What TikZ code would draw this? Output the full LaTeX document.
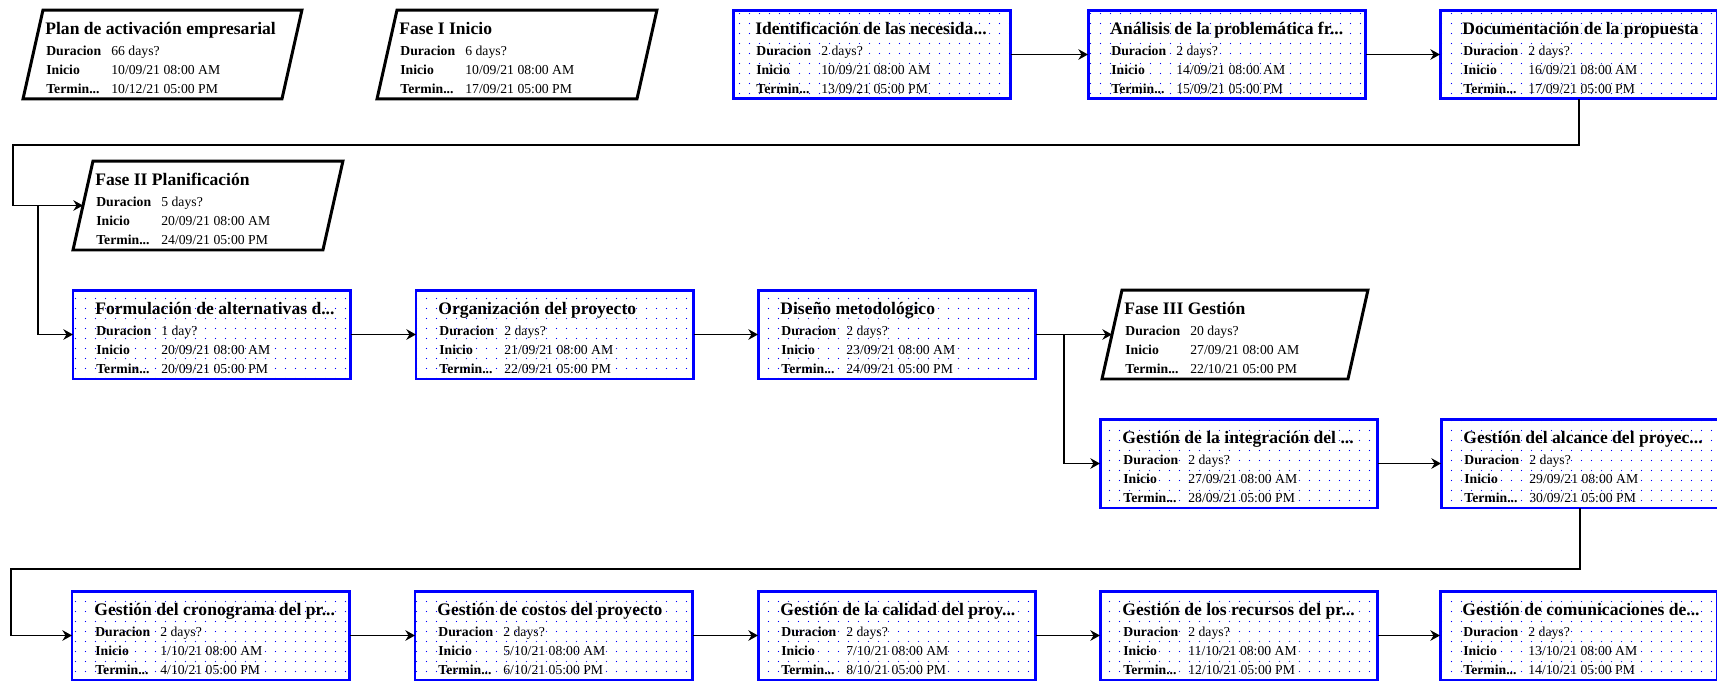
\documentclass[tikz,border=0pt]{standalone}
\usepackage{fontspec}
\setmainfont{Liberation Serif}
\usetikzlibrary{arrows.meta, patterns.meta}

% box with title and three fields
\newcommand{\pertbox}[8]{%
  \node[#2] (#1) at (#3,#4) {};
  \node[titletxt] (#1-t) at ([shift={(22,24)}]#1.north west) {#5};
  \node[lbltxt] (#1-dl) at ([shift={(23,45)}]#1.north west) {Duracion};
  \node[valtxt] (#1-dv) at ([shift={(88,45)}]#1.north west) {#6};
  \node[lbltxt] (#1-il) at ([shift={(23,64)}]#1.north west) {Inicio};
  \node[valtxt] (#1-iv) at ([shift={(88,64)}]#1.north west) {#7};
  \node[lbltxt] (#1-tl) at ([shift={(23,83)}]#1.north west) {Termin...};
  \node[valtxt] (#1-tv) at ([shift={(88,83)}]#1.north west) {#8};
}

\begin{document}
\begin{tikzpicture}[x=0.02cm, y=-0.02cm,
    taskbox/.style={draw=blue, line width=1.7pt, pattern={Dots[distance=5.4pt, radius=0.35pt]},
      pattern color=blue, minimum width=5.56cm, minimum height=1.78cm, inner sep=0pt,
      outer sep=0pt, anchor=north west},
    phasebox/.style={minimum height=1.78cm, inner sep=0pt, outer sep=0pt, anchor=north west},
    phaseline/.style={draw=black, line width=1.7pt, line join=miter},
    titletxt/.style={anchor=base west, inner sep=0pt, font=\fontsize{10}{12}\selectfont\bfseries},
    lbltxt/.style={anchor=base west, inner sep=0pt, font=\fontsize{7.8}{9}\selectfont\bfseries},
    valtxt/.style={anchor=base west, inner sep=0pt, font=\fontsize{7.8}{9}\selectfont},
    conn/.style={line width=0.9pt, -{Stealth[length=5.5pt, width=6pt]}}]

    \path[use as bounding box, fill=white] (0,0) rectangle (1717,681);

    % row 1
    \pertbox{plan}{phasebox, minimum width=5.58cm}{23}{10}{Plan de activación empresarial}{66 days?}{10/09/21 08:00 AM}{10/12/21 05:00 PM}
    \pertbox{faseI}{phasebox, minimum width=5.6cm}{377}{10}{Fase I Inicio}{6 days?}{10/09/21 08:00 AM}{17/09/21 05:00 PM}
    \pertbox{ident}{taskbox}{733}{10}{Identificación de las necesida...}{2 days?}{10/09/21 08:00 AM}{13/09/21 05:00 PM}
    \pertbox{analisis}{taskbox}{1088}{10}{Análisis de la problemática fr...}{2 days?}{14/09/21 08:00 AM}{15/09/21 05:00 PM}
    \pertbox{docu}{taskbox}{1440}{10}{Documentación de la propuesta}{2 days?}{16/09/21 08:00 AM}{17/09/21 05:00 PM}

    % row 2
    \pertbox{faseII}{phasebox, minimum width=5.4cm}{73}{161}{Fase II Planificación}{5 days?}{20/09/21 08:00 AM}{24/09/21 05:00 PM}

    % row 3
    \pertbox{formul}{taskbox}{73}{290}{Formulación de alternativas d...}{1 day?}{20/09/21 08:00 AM}{20/09/21 05:00 PM}
    \pertbox{organiz}{taskbox}{416}{290}{Organización del proyecto}{2 days?}{21/09/21 08:00 AM}{22/09/21 05:00 PM}
    \pertbox{diseno}{taskbox}{758}{290}{Diseño metodológico}{2 days?}{23/09/21 08:00 AM}{24/09/21 05:00 PM}
    \pertbox{faseIII}{phasebox, minimum width=5.32cm}{1102}{290}{Fase III Gestión}{20 days?}{27/09/21 08:00 AM}{22/10/21 05:00 PM}

    % row 4
    \pertbox{integr}{taskbox}{1100}{419}{Gestión de la integración del ...}{2 days?}{27/09/21 08:00 AM}{28/09/21 05:00 PM}
    \pertbox{alcance}{taskbox}{1441}{419}{Gestión del alcance del proyec...}{2 days?}{29/09/21 08:00 AM}{30/09/21 05:00 PM}

    % row 5
    \pertbox{crono}{taskbox}{72}{591}{Gestión del cronograma del pr...}{2 days?}{1/10/21 08:00 AM}{4/10/21 05:00 PM}
    \pertbox{costos}{taskbox}{415}{591}{Gestión de costos del proyecto}{2 days?}{5/10/21 08:00 AM}{6/10/21 05:00 PM}
    \pertbox{calidad}{taskbox}{758}{591}{Gestión de la calidad del proy...}{2 days?}{7/10/21 08:00 AM}{8/10/21 05:00 PM}
    \pertbox{recursos}{taskbox}{1100}{591}{Gestión de los recursos del pr...}{2 days?}{11/10/21 08:00 AM}{12/10/21 05:00 PM}
    \pertbox{comunic}{taskbox}{1440}{591}{Gestión de comunicaciones de...}{2 days?}{13/10/21 08:00 AM}{14/10/21 05:00 PM}

    % phase outlines
    \foreach \p in {plan, faseI, faseII, faseIII}
        \draw[phaseline] ([shift={(20,0)}]\p.north west) -- (\p.north east)
            -- ([shift={(-20,0)}]\p.south east) -- (\p.south west) -- cycle;

    % connectors
    \coordinate (r1turn) at (13,145);
    \coordinate (split1) at (38,205.5);
    \coordinate (split2) at (1064,334.5);
    \coordinate (r4turn) at (11,569);

    \foreach \a/\b in {ident/analisis, analisis/docu, formul/organiz, organiz/diseno,
        integr/alcance, crono/costos, costos/calidad, calidad/recursos, recursos/comunic}
        \draw[conn] (\a) -- (\b);

    \draw[conn] (docu.south) |- (r1turn) |- ([shift={(10,0)}]faseII.west);
    \draw[conn] (split1) |- (formul);
    \draw[conn] (diseno) -- ([shift={(10,0)}]faseIII.west);
    \draw[conn] (split2) |- (integr);
    \draw[conn] (alcance.south) |- (r4turn) |- (crono);
\end{tikzpicture}
\end{document}
